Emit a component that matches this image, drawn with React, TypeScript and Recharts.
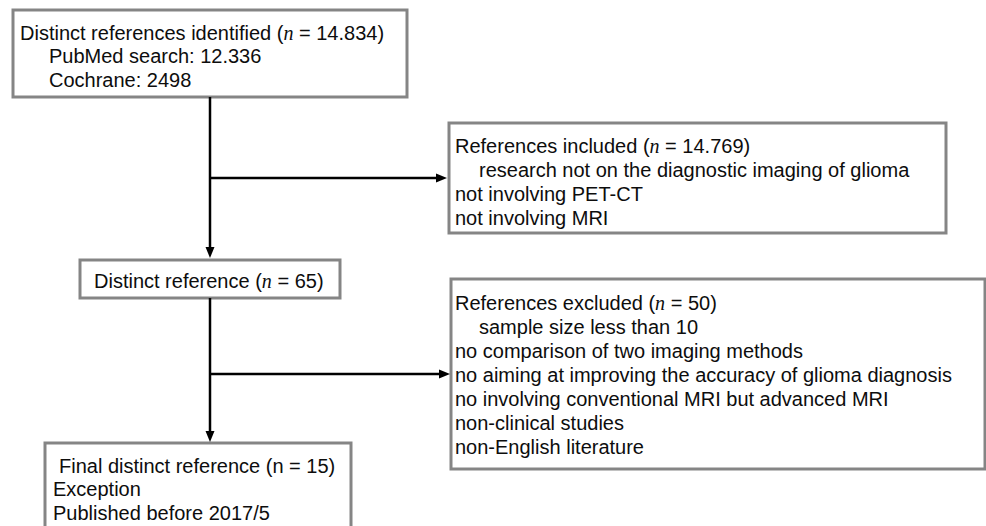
import React from "react";
import {
  ComposedChart,
  XAxis,
  YAxis,
  ReferenceArea,
  ReferenceLine,
  Scatter,
} from "recharts";

const W = 986;
const H = 526;

// lines of each box; n = rest of the line after an italic "n"
type Line = { t: string; indent?: boolean; n?: string };

const identifiedLines: Line[] = [
  { t: "Distinct references identified (", n: " = 14.834)" },
  { t: "PubMed search: 12.336", indent: true },
  { t: "Cochrane: 2498", indent: true },
];
const includedLines: Line[] = [
  { t: "References included (", n: " = 14.769)" },
  { t: "research not on the diagnostic imaging of glioma", indent: true },
  { t: "not involving PET-CT" },
  { t: "not involving MRI" },
];
const distinctLines: Line[] = [{ t: "Distinct reference (", n: " = 65)" }];
const excludedLines: Line[] = [
  { t: "References excluded (", n: " = 50)" },
  { t: "sample size less than 10", indent: true },
  { t: "no comparison of two imaging methods" },
  { t: "no aiming at improving the accuracy of glioma diagnosis" },
  { t: "no involving conventional MRI but advanced MRI" },
  { t: "non-clinical studies" },
  { t: "non-English literature" },
];
const finalLines: Line[] = [
  { t: "Final distinct reference (n = 15)", indent: true },
  { t: "Exception" },
  { t: "Published before 2017/5" },
];

// box frames in page pixels, text start and first baseline relative to the frame
const boxes = [
  { x1: 13, x2: 407, y1: 10, y2: 97, tx: 7, ty: 29.5, gap: 23.5, ind: 29, lines: identifiedLines },
  { x1: 449, x2: 946, y1: 123, y2: 233, tx: 6, ty: 29.5, gap: 24, ind: 24, lines: includedLines },
  { x1: 80, x2: 340, y1: 260, y2: 298, tx: 14, ty: 27.5, gap: 24, ind: 0, lines: distinctLines },
  { x1: 451, x2: 985, y1: 279, y2: 469, tx: 4, ty: 31, gap: 24, ind: 24, lines: excludedLines },
  { x1: 45, x2: 351, y1: 443, y2: 540, tx: 8, ty: 29.5, gap: 23.5, ind: 6, lines: finalLines },
];

const connectors = [
  { x1: 210, y1: 97, x2: 210, y2: 250 },
  { x1: 210, y1: 178, x2: 438, y2: 178 },
  { x1: 210, y1: 298, x2: 210, y2: 434 },
  { x1: 210, y1: 374, x2: 440, y2: 374 },
];

const arrowTips = [
  { x: 210, y: 258, dir: "down" },
  { x: 447, y: 178, dir: "right" },
  { x: 210, y: 442, dir: "down" },
  { x: 450, y: 374, dir: "right" },
];

const FONT = "'Liberation Sans', Arial, Helvetica, sans-serif";

const Arrow = (props: any) => {
  const { cx, cy, payload } = props;
  const d =
    payload.dir === "down"
      ? `M${cx},${cy} L${cx - 4.5},${cy - 11} L${cx + 4.5},${cy - 11} Z`
      : `M${cx},${cy} L${cx - 11},${cy - 4.5} L${cx - 11},${cy + 4.5} Z`;
  return <path d={d} fill="#000" />;
};

const boxText = (b: (typeof boxes)[number]) => (props: any) => {
  const vb = props.viewBox || {};
  const top = vb.y ?? b.y1;
  const left = (vb.x ?? b.x1) + b.tx;
  return (
    <text fontFamily={FONT} fontSize={20} fill="#0d0d0d">
      {b.lines.map((l, i) => (
        <tspan key={i} x={left + (l.indent ? b.ind : 0)} y={top + b.ty + i * b.gap}>
          {l.t}
          {l.n !== undefined && (
            <>
              <tspan fontStyle="italic" fontFamily="'Liberation Serif', serif">
                n
              </tspan>
              <tspan>{l.n}</tspan>
            </>
          )}
        </tspan>
      ))}
    </text>
  );
};

export default function App() {
  return (
    <div style={{ width: W, height: H, background: "#fff" }}>
      <style>{`body{margin:0}`}</style>
      <ComposedChart width={W} height={H} margin={{ top: 0, right: 0, bottom: 0, left: 0 }}>
        <XAxis type="number" dataKey="x" domain={[0, W]} hide allowDataOverflow />
        <YAxis type="number" dataKey="y" domain={[0, H]} reversed hide allowDataOverflow />
        {connectors.map((c, i) => (
          <ReferenceLine
            key={`c-${i}`}
            segment={[
              { x: c.x1, y: c.y1 },
              { x: c.x2, y: c.y2 },
            ]}
            stroke="#000"
            strokeWidth={2.5}
            ifOverflow="visible"
          />
        ))}
        {boxes.map((b, i) => (
          <ReferenceArea
            key={`b-${i}`}
            x1={b.x1}
            x2={b.x2}
            y1={b.y1}
            y2={b.y2}
            fill="#fff"
            fillOpacity={1}
            stroke="#858585"
            strokeWidth={3}
            ifOverflow="visible"
            label={{ content: boxText(b) }}
          />
        ))}
        <Scatter data={arrowTips} shape={<Arrow />} isAnimationActive={false} />
      </ComposedChart>
    </div>
  );
}
